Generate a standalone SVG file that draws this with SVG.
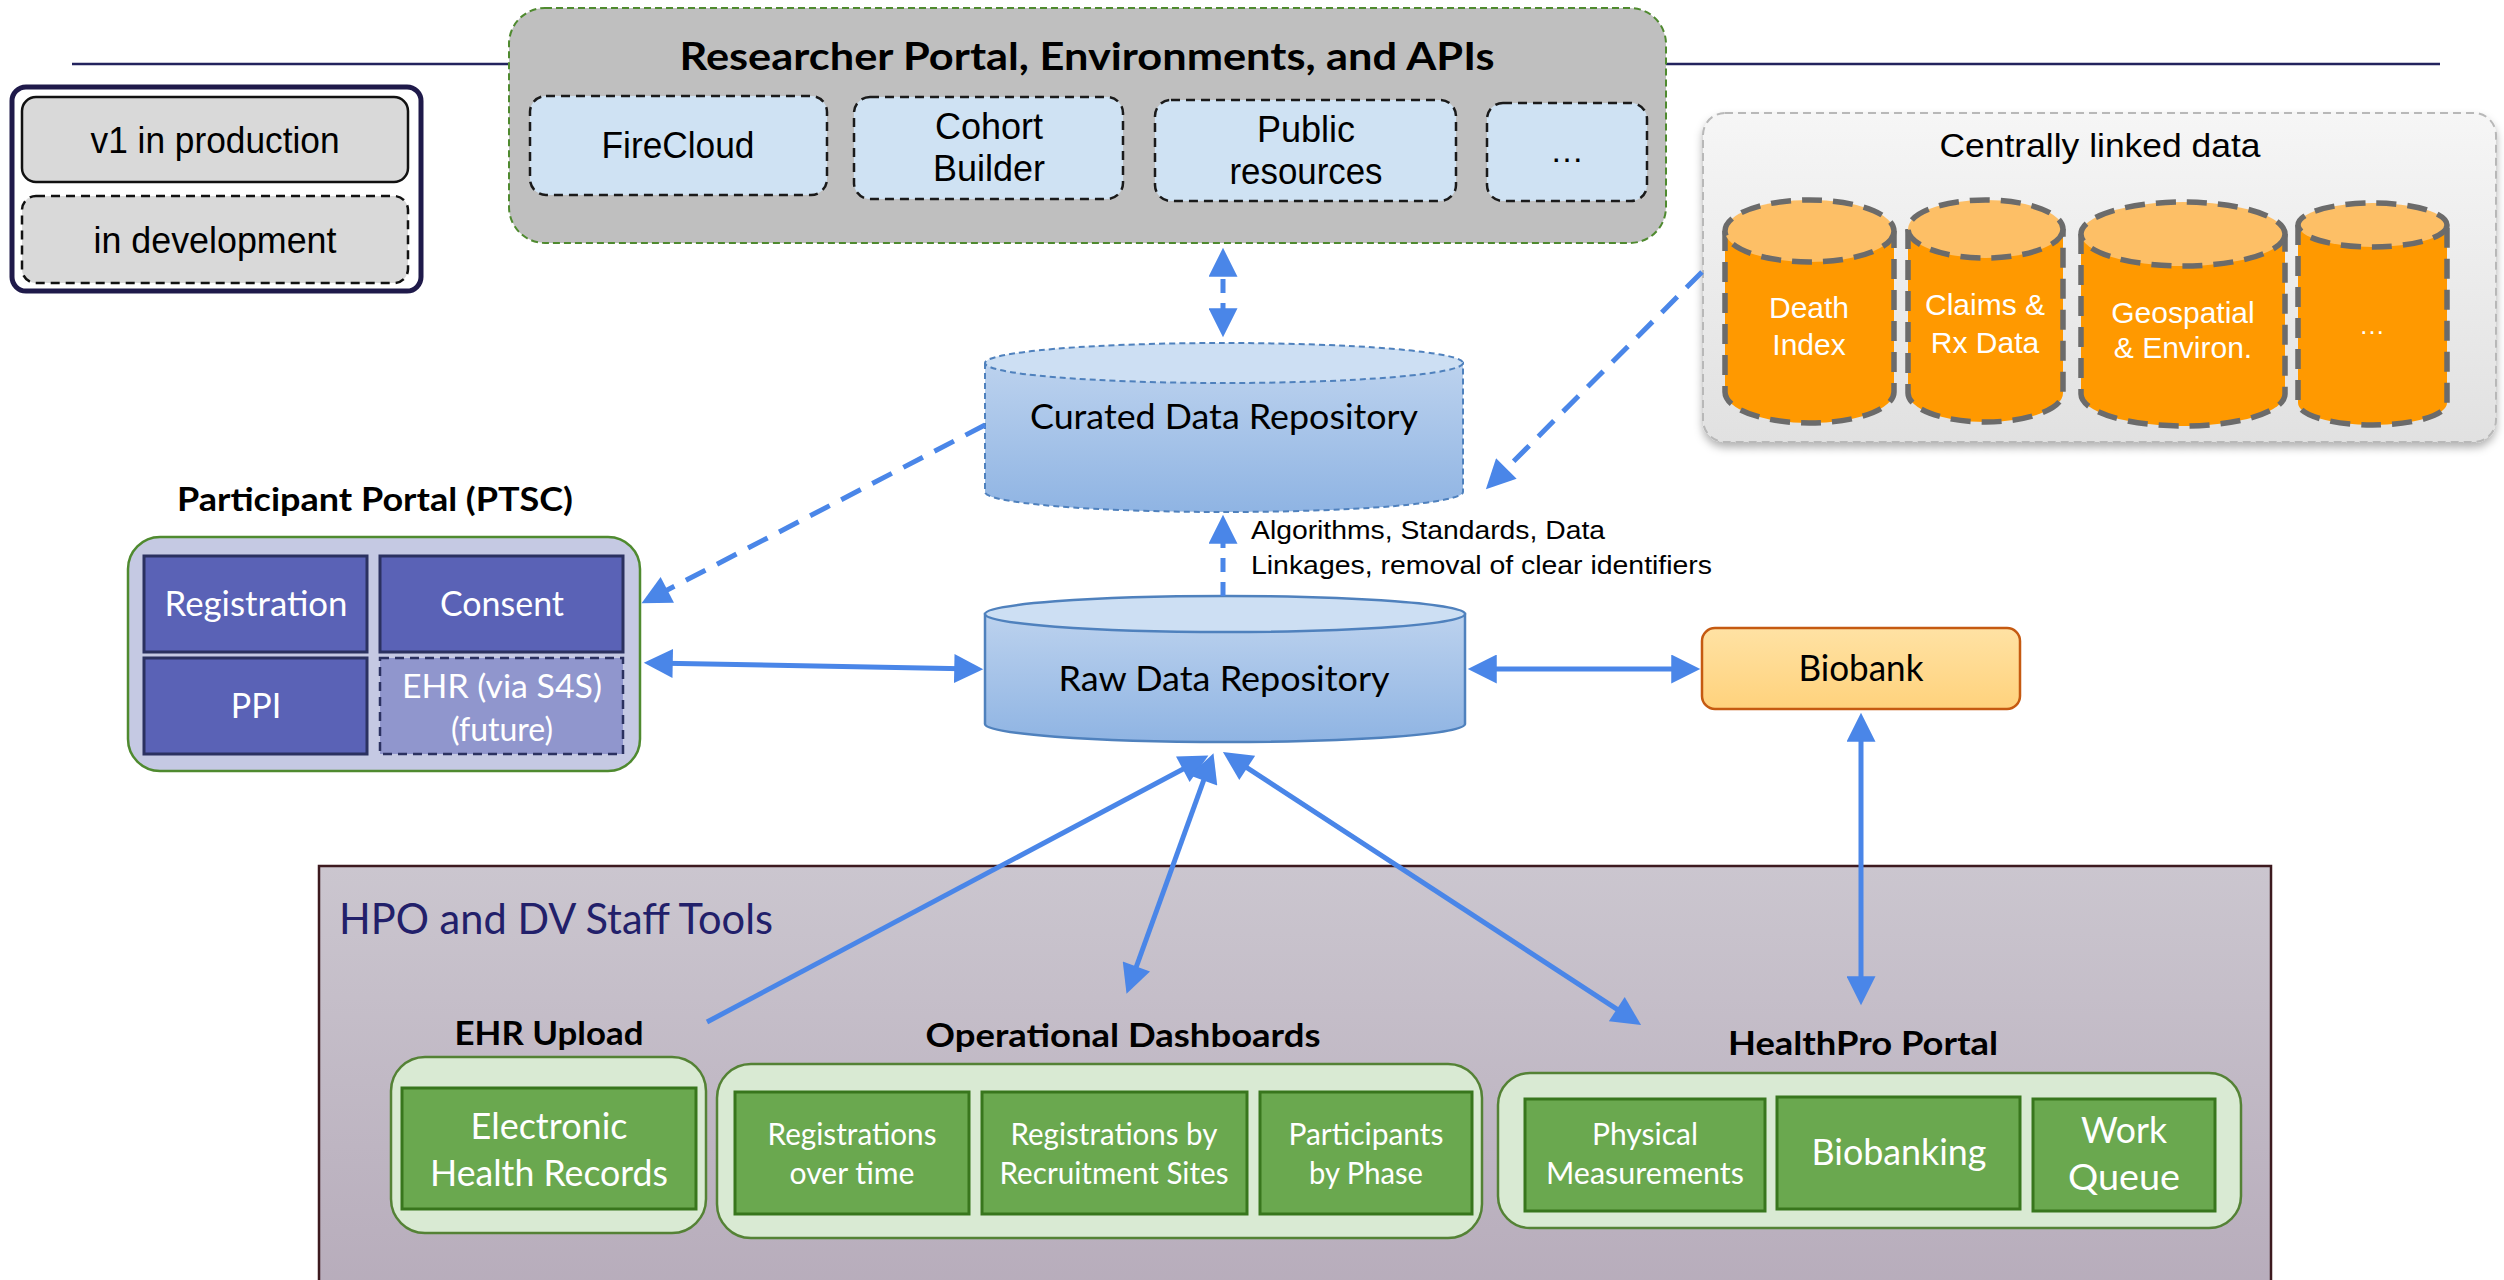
<svg xmlns="http://www.w3.org/2000/svg" width="2504" height="1280" viewBox="0 0 2504 1280">
  <style>
    .sans { font-family: "Liberation Sans", Arial, sans-serif; }
    .cal { font-family: Lato, "Open Sans", sans-serif; }
    .bold { font-weight: bold; }
    .blk { fill: #000; }
    .wht { fill: #fff; }
    .mid { text-anchor: middle; }
    .rbox { fill: #cfe2f3; stroke: #1a1a1a; stroke-width: 2.5; stroke-dasharray: 9 6; }
    .pp-cell { fill: #5a62b6; stroke: #2b3160; stroke-width: 3; }
    .grp { fill: #d9ead3; stroke: #548235; stroke-width: 2.5; }
    .gcell { fill: #6aa84f; stroke: #38761d; stroke-width: 3; }
    .ocyl { fill: #ff9900; stroke: #6b6b6b; stroke-width: 5.5; stroke-dasharray: 20 11; }
    .ocyl-top { fill: #fdbf66; stroke: #6b6b6b; stroke-width: 5.5; stroke-dasharray: 20 11; }
    .conn { fill: none; stroke: #4a86e8; stroke-width: 5; }
    .dash { stroke-dasharray: 22 13; }
  </style>
  <defs>
    <marker id="head" viewBox="0 0 10 10" refX="7.5" refY="5" markerWidth="33" markerHeight="29" markerUnits="userSpaceOnUse" orient="auto-start-reverse">
      <path d="M0,0 L10,5 L0,10 z" fill="#4a86e8"/>
    </marker>
    <linearGradient id="gBlue" x1="0" y1="0" x2="0" y2="1">
      <stop offset="0" stop-color="#bcd2ee"/>
      <stop offset="1" stop-color="#8fb4e3"/>
    </linearGradient>
    <linearGradient id="gBio" x1="0" y1="0" x2="0" y2="1">
      <stop offset="0" stop-color="#ffe2a4"/>
      <stop offset="1" stop-color="#ffd27c"/>
    </linearGradient>
    <linearGradient id="gHpo" x1="0" y1="0" x2="0" y2="1">
      <stop offset="0" stop-color="#cbc6cf"/>
      <stop offset="1" stop-color="#b7acbb"/>
    </linearGradient>
    <linearGradient id="gLinked" x1="0" y1="0" x2="0" y2="1">
      <stop offset="0" stop-color="#f6f6f6"/>
      <stop offset="1" stop-color="#e1e1e1"/>
    </linearGradient>
    <filter id="shadow" x="-5%" y="-5%" width="110%" height="115%">
      <feDropShadow dx="0" dy="5" stdDeviation="4" flood-color="#000" flood-opacity="0.3"/>
    </filter>
  </defs>

  <!-- header rule behind the researcher panel -->
  <line x1="72" y1="64" x2="2440" y2="64" stroke="#23235e" stroke-width="2.5"/>

  <!-- legend -->
  <g id="legend">
    <rect x="12" y="87" width="409" height="204" rx="14" fill="#fff" stroke="#1f1a4a" stroke-width="5"/>
    <rect x="22" y="97" width="386" height="85" rx="14" fill="#d9d9d9" stroke="#111" stroke-width="2.5"/>
    <text class="sans blk mid" x="215" y="153" font-size="36" textLength="249" lengthAdjust="spacingAndGlyphs">v1 in production</text>
    <rect x="22" y="196" width="386" height="87" rx="14" fill="#d9d9d9" stroke="#111" stroke-width="2.5" stroke-dasharray="9 6"/>
    <text class="sans blk mid" x="215" y="253" font-size="36" textLength="243" lengthAdjust="spacingAndGlyphs">in development</text>
  </g>

  <!-- researcher portal -->
  <g id="researcher-portal">
    <rect x="509" y="8" width="1157" height="235" rx="36" fill="#bfbfbf" stroke="#4f8a2f" stroke-width="2" stroke-dasharray="7 4"/>
    <text class="cal bold blk mid" x="1087" y="70" font-size="38" textLength="815" lengthAdjust="spacingAndGlyphs">Researcher Portal, Environments, and APIs</text>
  </g>
  <g id="firecloud">
    <rect class="rbox" x="530" y="96" width="297" height="99" rx="16"/>
    <text class="sans blk mid" x="678" y="158" font-size="36" textLength="153" lengthAdjust="spacingAndGlyphs">FireCloud</text>
  </g>
  <g id="cohort-builder">
    <rect class="rbox" x="854" y="97" width="269" height="102" rx="16"/>
    <text class="sans blk mid" x="989" y="139" font-size="36">Cohort</text>
    <text class="sans blk mid" x="989" y="181" font-size="36" textLength="112" lengthAdjust="spacingAndGlyphs">Builder</text>
  </g>
  <g id="public-resources">
    <rect class="rbox" x="1155" y="100" width="301" height="101" rx="16"/>
    <text class="sans blk mid" x="1306" y="142" font-size="36">Public</text>
    <text class="sans blk mid" x="1306" y="184" font-size="36" textLength="153" lengthAdjust="spacingAndGlyphs">resources</text>
  </g>
  <g id="more-tools">
    <rect class="rbox" x="1487" y="103" width="160" height="98" rx="16"/>
    <text class="sans blk mid" x="1567" y="162" font-size="34">…</text>
  </g>

  <!-- centrally linked data -->
  <g id="linked-data">
    <rect x="1703" y="113" width="793" height="329" rx="22" fill="url(#gLinked)" stroke="#b8b8b8" stroke-width="2" stroke-dasharray="8 5" filter="url(#shadow)"/>
    <text class="sans blk mid" x="2100" y="157" font-size="34" textLength="321" lengthAdjust="spacingAndGlyphs">Centrally linked data</text>
  </g>
  <g id="death-index">
    <path class="ocyl" d="M1725,231 L1725,392 A84.5,31 0 0 0 1894,392 L1894,231"/>
    <ellipse class="ocyl-top" cx="1809.5" cy="231" rx="84.5" ry="31"/>
    <text class="sans wht mid" x="1809" y="318" font-size="30">Death</text>
    <text class="sans wht mid" x="1809" y="355" font-size="30">Index</text>
  </g>
  <g id="claims-rx">
    <path class="ocyl" d="M1908,229 L1908,393 A77.5,29 0 0 0 2063,393 L2063,229"/>
    <ellipse class="ocyl-top" cx="1985.5" cy="229" rx="77.5" ry="29"/>
    <text class="sans wht mid" x="1985" y="315" font-size="30">Claims &amp;</text>
    <text class="sans wht mid" x="1985" y="353" font-size="30">Rx Data</text>
  </g>
  <g id="geospatial">
    <path class="ocyl" d="M2081,234 L2081,394 A102,32 0 0 0 2285,394 L2285,234"/>
    <ellipse class="ocyl-top" cx="2183" cy="234" rx="102" ry="32"/>
    <text class="sans wht mid" x="2183" y="323" font-size="30">Geospatial</text>
    <text class="sans wht mid" x="2183" y="358" font-size="30">&amp; Environ.</text>
  </g>
  <g id="more-data">
    <path class="ocyl" d="M2298,225 L2298,403 A74.5,22 0 0 0 2447,403 L2447,225"/>
    <ellipse class="ocyl-top" cx="2372.5" cy="225" rx="74.5" ry="22"/>
    <text class="sans wht mid" x="2372" y="334" font-size="26">…</text>
  </g>

  <!-- curated data repository -->
  <g id="curated-repo">
    <path d="M985,363 L985,492 A239,20 0 0 0 1463,492 L1463,363 z" fill="url(#gBlue)" stroke="#4f81bd" stroke-width="2" stroke-dasharray="6 4"/>
    <ellipse cx="1224" cy="363" rx="239" ry="20" fill="#cddff3" stroke="#4f81bd" stroke-width="2" stroke-dasharray="6 4"/>
    <text class="cal blk mid" x="1224" y="429" font-size="34" textLength="388" lengthAdjust="spacingAndGlyphs">Curated Data Repository</text>
  </g>

  <!-- raw data repository -->
  <g id="raw-repo">
    <path d="M985,614 L985,724 A240,18 0 0 0 1465,724 L1465,614 z" fill="url(#gBlue)" stroke="#4f81bd" stroke-width="2.5"/>
    <ellipse cx="1225" cy="614" rx="240" ry="18" fill="#cddff3" stroke="#4f81bd" stroke-width="2.5"/>
    <text class="cal blk mid" x="1224" y="691" font-size="34" textLength="331" lengthAdjust="spacingAndGlyphs">Raw Data Repository</text>
  </g>

  <text class="sans blk" x="1251" y="539" font-size="26" textLength="354" lengthAdjust="spacingAndGlyphs">Algorithms, Standards, Data</text>
  <text class="sans blk" x="1251" y="574" font-size="26" textLength="461" lengthAdjust="spacingAndGlyphs">Linkages, removal of clear identifiers</text>

  <!-- participant portal -->
  <g id="participant-portal">
    <text class="cal bold blk mid" x="375" y="511" font-size="32" textLength="396" lengthAdjust="spacingAndGlyphs">Participant Portal (PTSC)</text>
    <rect x="128" y="537" width="512" height="234" rx="32" fill="#c5c9e3" stroke="#4f8a2f" stroke-width="2.5"/>
  </g>
  <g id="registration">
    <rect class="pp-cell" x="144" y="556" width="223" height="96"/>
    <text class="cal wht mid" x="256" y="616" font-size="34" textLength="183" lengthAdjust="spacingAndGlyphs">Registration</text>
  </g>
  <g id="consent">
    <rect class="pp-cell" x="380" y="556" width="243" height="96"/>
    <text class="cal wht mid" x="502" y="616" font-size="34" textLength="124" lengthAdjust="spacingAndGlyphs">Consent</text>
  </g>
  <g id="ppi">
    <rect class="pp-cell" x="144" y="658" width="223" height="96"/>
    <text class="cal wht mid" x="256" y="718" font-size="34">PPI</text>
  </g>
  <g id="ehr-s4s">
    <rect x="380" y="658" width="243" height="96" fill="#9096cd" stroke="#2b3160" stroke-width="2.5" stroke-dasharray="9 6"/>
    <text class="cal wht mid" x="502" y="698" font-size="32" textLength="200" lengthAdjust="spacingAndGlyphs">EHR (via S4S)</text>
    <text class="cal wht mid" x="502" y="741" font-size="32">(future)</text>
  </g>

  <!-- biobank -->
  <g id="biobank">
    <rect x="1702" y="628" width="318" height="81" rx="13" fill="url(#gBio)" stroke="#c55a11" stroke-width="2.5"/>
    <text class="cal blk mid" x="1861" y="681" font-size="36" textLength="125" lengthAdjust="spacingAndGlyphs">Biobank</text>
  </g>

  <!-- HPO and DV staff tools -->
  <g id="staff-tools">
    <rect x="319" y="866" width="1952" height="430" fill="url(#gHpo)" stroke="#3d1a1f" stroke-width="2.5"/>
    <text class="cal" x="339" y="934" font-size="42" fill="#22206a" textLength="434" lengthAdjust="spacingAndGlyphs">HPO and DV Staff Tools</text>
  </g>

  <g id="ehr-upload">
    <text class="cal bold blk mid" x="549" y="1045" font-size="33" textLength="189" lengthAdjust="spacingAndGlyphs">EHR Upload</text>
    <rect class="grp" x="391" y="1057" width="315" height="176" rx="34"/>
    <rect class="gcell" x="402" y="1088" width="294" height="121"/>
    <text class="cal wht mid" x="549" y="1139" font-size="36" textLength="157" lengthAdjust="spacingAndGlyphs">Electronic</text>
    <text class="cal wht mid" x="549" y="1186" font-size="36" textLength="238" lengthAdjust="spacingAndGlyphs">Health Records</text>
  </g>

  <g id="operational-dashboards">
    <text class="cal bold blk mid" x="1123" y="1047" font-size="33" textLength="395" lengthAdjust="spacingAndGlyphs">Operational Dashboards</text>
    <rect class="grp" x="717" y="1064" width="765" height="174" rx="34"/>
    <rect class="gcell" x="735" y="1092" width="234" height="122"/>
    <text class="cal wht mid" x="852" y="1145" font-size="30" textLength="169" lengthAdjust="spacingAndGlyphs">Registrations</text>
    <text class="cal wht mid" x="852" y="1184" font-size="30" textLength="125" lengthAdjust="spacingAndGlyphs">over time</text>
    <rect class="gcell" x="982" y="1092" width="265" height="122"/>
    <text class="cal wht mid" x="1114" y="1145" font-size="30" textLength="207" lengthAdjust="spacingAndGlyphs">Registrations by</text>
    <text class="cal wht mid" x="1114" y="1184" font-size="30" textLength="229" lengthAdjust="spacingAndGlyphs">Recruitment Sites</text>
    <rect class="gcell" x="1260" y="1092" width="212" height="122"/>
    <text class="cal wht mid" x="1366" y="1145" font-size="30" textLength="155" lengthAdjust="spacingAndGlyphs">Participants</text>
    <text class="cal wht mid" x="1366" y="1184" font-size="30" textLength="114" lengthAdjust="spacingAndGlyphs">by Phase</text>
  </g>

  <g id="healthpro-portal">
    <text class="cal bold blk mid" x="1863" y="1055" font-size="33" textLength="270" lengthAdjust="spacingAndGlyphs">HealthPro Portal</text>
    <rect class="grp" x="1498" y="1073" width="743" height="155" rx="32"/>
    <rect class="gcell" x="1525" y="1099" width="240" height="112"/>
    <text class="cal wht mid" x="1645" y="1145" font-size="30" textLength="106" lengthAdjust="spacingAndGlyphs">Physical</text>
    <text class="cal wht mid" x="1645" y="1184" font-size="30" textLength="198" lengthAdjust="spacingAndGlyphs">Measurements</text>
    <rect class="gcell" x="1777" y="1097" width="243" height="112"/>
    <text class="cal wht mid" x="1899" y="1165" font-size="36" textLength="175" lengthAdjust="spacingAndGlyphs">Biobanking</text>
    <rect class="gcell" x="2033" y="1099" width="182" height="112"/>
    <text class="cal wht mid" x="2124" y="1143" font-size="36" textLength="86" lengthAdjust="spacingAndGlyphs">Work</text>
    <text class="cal wht mid" x="2124" y="1190" font-size="36" textLength="112" lengthAdjust="spacingAndGlyphs">Queue</text>
  </g>

  <!-- connectors -->
  <g id="connectors">
    <path class="conn" d="M1223,255 L1223,330" stroke-dasharray="14 10" marker-start="url(#head)" marker-end="url(#head)"/>
    <path class="conn" d="M1223,596 L1223,522" stroke-dasharray="14 10" marker-end="url(#head)"/>
    <path class="conn dash" d="M985,425 L648,600" marker-end="url(#head)"/>
    <path class="conn dash" d="M1702,272 L1491,484" marker-end="url(#head)"/>
    <path class="conn" d="M651,663 L976,669" marker-start="url(#head)" marker-end="url(#head)"/>
    <path class="conn" d="M1475,669 L1693,669" marker-start="url(#head)" marker-end="url(#head)"/>
    <path class="conn" d="M1861,720 L1861,998" stroke-width="4" marker-start="url(#head)" marker-end="url(#head)"/>
    <path class="conn" d="M707,1022 L1202,759" stroke-width="4.5" marker-end="url(#head)"/>
    <path class="conn" d="M1211,760 L1129,987" stroke-width="4" marker-start="url(#head)" marker-end="url(#head)"/>
    <path class="conn" d="M1229,756 L1635,1021" stroke-width="4.5" marker-start="url(#head)" marker-end="url(#head)"/>
  </g>
</svg>
